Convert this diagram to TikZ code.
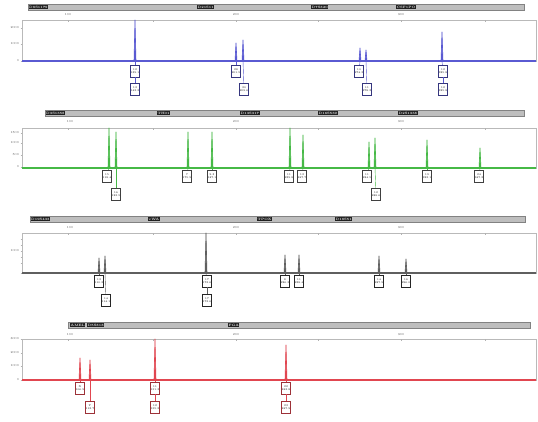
\documentclass[tikz,border=0pt]{standalone}
\definecolor{cblue}{RGB}{90,90,210}
\definecolor{cgreen}{RGB}{70,185,70}
\definecolor{cgray}{RGB}{95,95,95}
\definecolor{cred}{RGB}{225,70,80}
\definecolor{barfill}{RGB}{190,190,190}
\definecolor{barline}{RGB}{130,130,130}
\begin{document}
\begin{tikzpicture}[x=1pt,y=-1pt,
  hdr/.style={draw=barline, fill=barfill, line width=0.5pt},
  mk/.style={fill=gray!25!black, text=gray!15, inner sep=0.5pt, anchor=west,
    font=\fontsize{3.2}{3.2}\selectfont\bfseries},
  sc/.style={inner sep=0pt, text=gray!60!black, font=\fontsize{3}{3}\selectfont},
  yl/.style={inner sep=0pt, anchor=east, text=gray!60!black, font=\fontsize{3}{3}\selectfont},
  frame/.style={draw=gray!55, line width=0.5pt},
  lb/.style={draw=#1, fill=white, line width=0.4pt, inner sep=0.3pt,
    minimum width=8.5pt, minimum height=12pt, align=center,
    font=\fontsize{2.6}{3}\selectfont},
  cn/.style={draw=#1, line width=0.4pt},
  pk/.style={fill=#1, draw=#1, line width=0.6pt, line join=round}
]
\useasboundingbox (0,0) rectangle (538,421);
\fill[white] (0,0) rectangle (538,421);

% ================= panel 1 (blue) =================
\draw[hdr] (28,4) rectangle (524,10);
\node[mk] (h11) at (28.5,7) {D8S1179};
\node[mk] (h12) at (197,7) {D21S11};
\node[mk] (h13) at (311,7) {D7S820};
\node[mk] (h14) at (396,7) {CSF1PO};
\foreach \x/\t in {68/100,236/200,401/300} \node[sc] at (\x,15) {\t};
\draw[frame] (22,20) rectangle (536,61);
\foreach \x in {68,153,236,318,401,485} \draw[gray!60] (\x,20) -- (\x,22);
\foreach \y/\t in {28/2000,44/1000,61/0} {\node[yl] at (19,\y) {\t}; \draw[gray!60] (20.5,\y) -- (22,\y);}
\foreach \x/\t [count=\i] in {135/20,236/43,243/40,360/48,366/50,442/32}
  {\draw[pk=cblue] (\x-1,61) -- (\x,\t) -- (\x+1,61); \coordinate (pa\i) at (\x,61);}
\draw[cblue, line width=1.6pt] (22,61) -- (536,61);
\node[lb=cblue!60!black] (ba1) at (135,71) {12\\139.1};
\node[lb=cblue!60!black] (ba1b) at (135,89) {13\\143.2};
\node[lb=cblue!60!black] (ba2) at (236,71) {28\\201.5};
\node[lb=cblue!60!black] (ba3) at (244,89) {30\\209.6};
\node[lb=cblue!60!black] (ba4) at (359,71) {10\\274.3};
\node[lb=cblue!60!black] (ba5) at (367,89) {11\\278.2};
\node[lb=cblue!60!black] (ba6) at (443,71) {12\\325.8};
\node[lb=cblue!60!black] (ba6b) at (443,89) {12\\325.8};
\draw[cn=cblue] (pa1) -- (ba1);
\draw[cn=cblue] (ba1) -- (ba1b);
\draw[cn=cblue] (pa2) -- (ba2);
\draw[cn=cblue] (pa3) -- (ba3);
\draw[cn=cblue] (pa4) -- (ba4);
\draw[cn=cblue] (pa5) -- (ba5);
\draw[cn=cblue] (pa6) -- (ba6);
\draw[cn=cblue] (ba6) -- (ba6b);

% ================= panel 2 (green) =================
\draw[hdr] (45,110) rectangle (524,116);
\node[mk] (h21) at (45.5,113) {D3S1358};
\node[mk] (h22) at (157,113) {TH01};
\node[mk] (h23) at (240,113) {D13S317};
\node[mk] (h24) at (318,113) {D16S539};
\node[mk] (h25) at (398,113) {D2S1338};
\foreach \x/\t in {70/100,236/200,401/300} \node[sc] at (\x,122) {\t};
\draw[frame] (22,128) rectangle (536,168);
\foreach \x in {68,153,236,318,401,485} \draw[gray!60] (\x,128) -- (\x,130);
\foreach \y/\t in {133/1500,143/1000,155/500,167/0} {\node[yl] at (19,\y) {\t}; \draw[gray!60] (20.5,\y) -- (22,\y);}
\foreach \x/\t [count=\i] in {109/128,116/132,188/132,212/132,290/128,303/135,369/142,375/138,427/140,480/148}
  {\draw[pk=cgreen] (\x-1,168) -- (\x,\t) -- (\x+1,168); \coordinate (pb\i) at (\x,168);}
\draw[cgreen, line width=1.2pt] (22,168) -- (536,168);
\node[lb=gray!50!black] (bb1) at (107,176) {15\\118.4};
\node[lb=gray!50!black] (bb2) at (116,194) {16\\122.5};
\node[lb=gray!50!black] (bb3) at (187,176) {7\\175.9};
\node[lb=gray!50!black] (bb4) at (212,176) {9.3\\187.1};
\node[lb=gray!50!black] (bb5) at (289,176) {11\\239.8};
\node[lb=gray!50!black] (bb6) at (302,176) {13\\247.7};
\node[lb=gray!50!black] (bb7) at (367,176) {11\\284.5};
\node[lb=gray!50!black] (bb8) at (376,194) {12\\288.6};
\node[lb=gray!50!black] (bb9) at (427,176) {19\\322.1};
\node[lb=gray!50!black] (bb10) at (479,176) {24\\347.2};
\foreach \i in {1,...,10} \draw[cn=cgreen] (pb\i) -- (bb\i);

% ================= panel 3 (gray) =================
\draw[hdr] (30,216) rectangle (525,222);
\node[mk] (h31) at (30.5,219) {D19S433};
\node[mk] (h32) at (148,219) {vWA};
\node[mk] (h33) at (257,219) {TPOX};
\node[mk] (h34) at (335,219) {D18S51};
\foreach \x/\t in {70/100,236/200,401/300} \node[sc] at (\x,228) {\t};
\draw[frame] (22,233) rectangle (536,273);
\foreach \x in {68,153,236,318,401,485} \draw[gray!60] (\x,233) -- (\x,235);
\foreach \y/\t in {251/1000} {\node[yl] at (19,\y) {\t};}
\foreach \y in {239,245,251,257,263,273} \draw[gray!60] (20.5,\y) -- (22,\y);
\foreach \x/\t [count=\i] in {99/258,105/256,206/233,285/255,299/255,379/256,406/259}
  {\draw[pk=cgray] (\x-1,273) -- (\x,\t) -- (\x+1,273); \coordinate (pc\i) at (\x,273);}
\draw[cgray, line width=1.2pt] (22,273) -- (536,273);
\node[lb=gray!30!black] (bc1) at (99,281) {13\\110.2};
\node[lb=gray!30!black] (bc2) at (106,300) {14\\114.1};
\node[lb=gray!30!black] (bc3) at (207,281) {17\\172.6};
\node[lb=gray!30!black] (bc3b) at (207,300) {17\\172.6};
\node[lb=gray!30!black] (bc4) at (285,281) {8\\226.3};
\node[lb=gray!30!black] (bc5) at (299,281) {11\\238.4};
\node[lb=gray!30!black] (bc6) at (379,281) {14\\287.9};
\node[lb=gray!30!black] (bc7) at (406,281) {16\\296.0};
\foreach \i in {1,...,7} \draw[cn=cgray] (pc\i) -- (bc\i);
\draw[cn=cgray] (bc3) -- (bc3b);

% ================= panel 4 (red) =================
\draw[hdr] (68,322) rectangle (530,328);
\node[mk] (h41) at (70,325) {AMEL};
\node[mk] (h42) at (87,325) {D5S818};
\node[mk] (h43) at (228,325) {FGA};
\foreach \x/\t in {70/100,236/200,401/300} \node[sc] at (\x,335) {\t};
\draw[frame] (22,339) rectangle (536,380);
\foreach \x in {68,153,236,318,401,485} \draw[gray!60] (\x,339) -- (\x,341);
\foreach \y/\t in {339/3000,353/2000,366/1000,380/0} {\node[yl] at (19,\y) {\t}; \draw[gray!60] (20.5,\y) -- (22,\y);}
\foreach \x/\t [count=\i] in {80/358,90/360,155/339,286/345}
  {\draw[pk=cred] (\x-1,380) -- (\x,\t) -- (\x+1,380); \coordinate (pd\i) at (\x,380);}
\draw[cred, line width=1.2pt] (22,380) -- (536,380);
\node[lb=cred!70!black] (bd1) at (80,388) {X\\106.9};
\node[lb=cred!70!black] (bd2) at (90,407) {Y\\112.7};
\node[lb=cred!70!black] (bd3) at (155,388) {11\\151.3};
\node[lb=cred!70!black] (bd3b) at (155,407) {12\\155.2};
\node[lb=cred!70!black] (bd4) at (286,388) {22\\243.8};
\node[lb=cred!70!black] (bd4b) at (286,407) {23\\247.9};
\foreach \i in {1,...,4} \draw[cn=cred] (pd\i) -- (bd\i);
\draw[cn=cred] (bd3) -- (bd3b);
\draw[cn=cred] (bd4) -- (bd4b);
\end{tikzpicture}
\end{document}
